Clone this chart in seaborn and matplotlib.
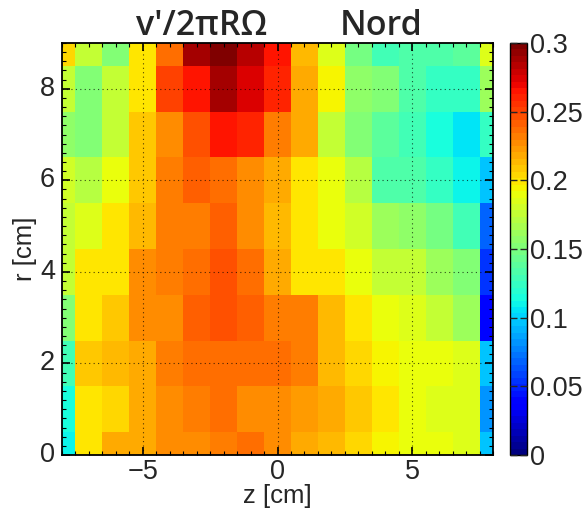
import numpy as np
import pandas as pd
import matplotlib
matplotlib.use("Agg")
import matplotlib.pyplot as plt
from matplotlib.ticker import FixedLocator
import seaborn as sns

# ---- data ----
z_vals = [-8, -7, -6, -5, -4, -3, -2, -1, 0, 1, 2, 3, 4, 5, 6, 7, 8]
r_vals = [0, 1, 2, 3, 4, 5, 6, 7, 8, 9]

v_r0 = [0.110, 0.198, 0.217, 0.217, 0.228, 0.228, 0.230, 0.238, 0.228, 0.217, 0.212, 0.205, 0.195, 0.192, 0.192, 0.186, 0.094]
v_r1 = [0.117, 0.200, 0.205, 0.217, 0.225, 0.230, 0.235, 0.228, 0.228, 0.222, 0.220, 0.210, 0.200, 0.192, 0.186, 0.186, 0.080]
v_r2 = [0.129, 0.210, 0.212, 0.217, 0.232, 0.237, 0.237, 0.237, 0.235, 0.232, 0.212, 0.205, 0.195, 0.192, 0.190, 0.186, 0.094]
v_r3 = [0.152, 0.197, 0.207, 0.225, 0.228, 0.241, 0.244, 0.241, 0.232, 0.230, 0.212, 0.200, 0.192, 0.186, 0.175, 0.163, 0.040]
v_r4 = [0.177, 0.197, 0.200, 0.225, 0.232, 0.237, 0.248, 0.237, 0.217, 0.200, 0.198, 0.192, 0.177, 0.175, 0.163, 0.152, 0.056]
v_r5 = [0.175, 0.186, 0.198, 0.212, 0.230, 0.232, 0.241, 0.228, 0.212, 0.200, 0.190, 0.182, 0.163, 0.157, 0.146, 0.129, 0.066]
v_r6 = [0.182, 0.172, 0.192, 0.210, 0.232, 0.243, 0.235, 0.228, 0.217, 0.200, 0.192, 0.169, 0.134, 0.134, 0.123, 0.110, 0.094]
v_r7 = [0.157, 0.152, 0.177, 0.210, 0.228, 0.248, 0.263, 0.258, 0.230, 0.217, 0.177, 0.152, 0.140, 0.129, 0.117, 0.107, 0.123]
v_r8 = [0.175, 0.152, 0.175, 0.198, 0.252, 0.267, 0.287, 0.272, 0.258, 0.217, 0.195, 0.157, 0.152, 0.134, 0.123, 0.123, 0.163]
v_r9 = [0.205, 0.175, 0.152, 0.198, 0.237, 0.287, 0.300, 0.283, 0.265, 0.215, 0.186, 0.146, 0.129, 0.134, 0.134, 0.140, 0.184]

rows = [v_r0, v_r1, v_r2, v_r3, v_r4, v_r5, v_r6, v_r7, v_r8, v_r9]
df = pd.DataFrame(rows, index=r_vals, columns=z_vals).iloc[::-1]  # top row = r 9

x_ticks = [-5, 0, 5]
y_ticks = [0, 2, 4, 6, 8]
cbar_ticks = [0, 0.05, 0.1, 0.15, 0.2, 0.25, 0.3]
cbar_labels = ["0", "0.05", "0.1", "0.15", "0.2", "0.25", "0.3"]
title_left = "v\u2032/2\u03c0R\u03a9"
title_right = "Nord"

# ---- figure ----
sns.set_style("white")
plt.rcParams["font.family"] = ["Liberation Sans", "DejaVu Sans"]
plt.rcParams["axes.axisbelow"] = False

W, H = 586, 517
fig = plt.figure(figsize=(W / 100, H / 100), dpi=100)
ax = fig.add_axes([62 / W, 1 - 455 / H, 431 / W, 412 / H])
cax = fig.add_axes([510 / W, 1 - 455 / H, 17 / W, 412 / H])

cmap = plt.get_cmap("jet", 64)
sns.heatmap(df, ax=ax, cbar_ax=cax, cmap=cmap, vmin=0, vmax=0.3,
            cbar_kws={"ticks": cbar_ticks})


def zx(z):
    return z - z_vals[0] + 0.5


def ry(r):
    return (r_vals[-1] - r) + 0.5


ax.set_xlim(zx(-8), zx(8))
ax.set_ylim(ry(0), ry(9))

ax.set_xticks([zx(z) for z in x_ticks])
ax.set_xticklabels([f"{z}".replace("-", "\u2212") for z in x_ticks], rotation=0, fontsize=19.5)
ax.set_yticks([ry(r) for r in y_ticks])
ax.set_yticklabels([str(r) for r in y_ticks], rotation=0, fontsize=19.5)
ax.xaxis.set_minor_locator(FixedLocator([zx(z) for z in np.arange(-8, 8.01, 0.5)]))
ax.yaxis.set_minor_locator(FixedLocator([ry(r) for r in np.arange(0, 9.01, 0.2)]))

ax.tick_params(which="both", direction="in", top=True, right=True, bottom=True, left=True, color="black")
ax.tick_params(which="major", length=6, width=1.2)
ax.tick_params(axis="x", which="major", pad=3)
ax.tick_params(axis="y", which="major", pad=5)
ax.tick_params(which="minor", length=3, width=0.8)
for s in ax.spines.values():
    s.set_visible(True)
    s.set_color("black")
    s.set_linewidth(1.3)

ax.set_axisbelow(False)
ax.grid(True, which="major", linestyle=(0, (1, 3)), color="black", linewidth=0.8, alpha=0.7)

ax.set_xlabel("z [cm]", fontsize=18.5, labelpad=-1)
ax.set_ylabel("r [cm]", fontsize=18.5, labelpad=2)

fig.text(202 / W, 1 - 35 / H, title_left, fontsize=24.5, fontweight="semibold",
         ha="center", va="baseline", family=["Open Sans", "DejaVu Sans"])
fig.text(381 / W, 1 - 35 / H, title_right, fontsize=24.5, fontweight="semibold",
         ha="center", va="baseline", family=["Open Sans", "DejaVu Sans"])

cb = ax.collections[0].colorbar
cb.outline.set_visible(True)
cb.outline.set_linewidth(1.0)
cb.outline.set_edgecolor("black")
cb.set_ticks(cbar_ticks)
cb.set_ticklabels(cbar_labels)
cax.set_axisbelow(False)
cax.tick_params(direction="in", length=5, width=1, labelsize=19.5, left=True, right=True, pad=2)

fig.savefig("out.png", dpi=100)
